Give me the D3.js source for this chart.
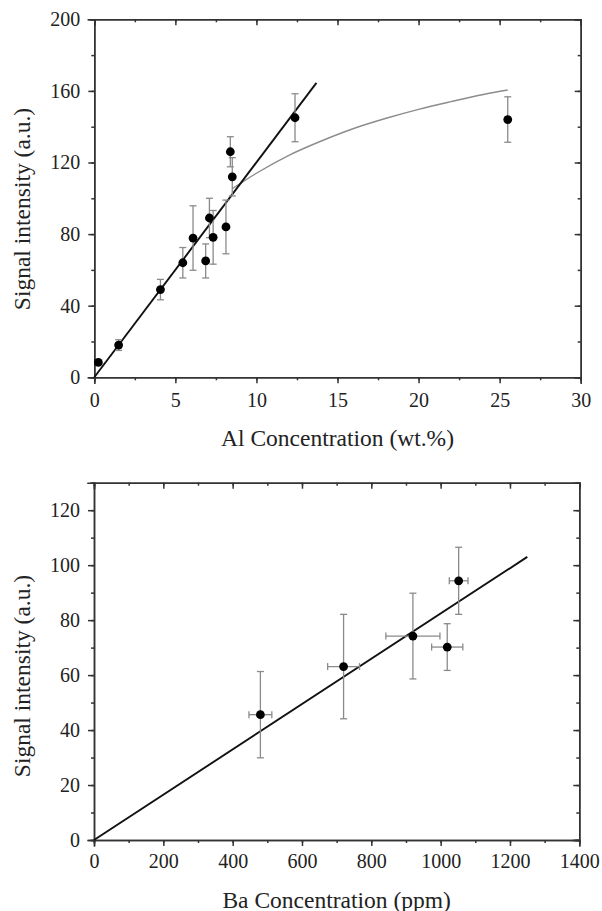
<!DOCTYPE html>
<html>
<head>
<meta charset="utf-8">
<script src="https://cdn.jsdelivr.net/npm/d3@7/dist/d3.min.js"></script>
<style>
  body { margin: 0; background: #fff; }
  svg { display: block; }
  .tick text { font-family: 'Liberation Serif', 'Times New Roman', Times, 'DejaVu Serif', serif; font-size: 20px; fill: #222; }
  .axis path, .axis line { stroke: #333; stroke-width: 1.5; }
  .title { font-family: 'Liberation Serif', 'Times New Roman', Times, 'DejaVu Serif', serif; font-size: 23.5px; fill: #222; }
</style>
</head>
<body>
<div id="chart"></div>
<script>
// ---- top panel: Al ----
const alConc   = [0.25, 1.5, 4.08, 5.46, 6.09, 6.87, 7.1, 7.33, 8.12, 8.39, 8.51, 12.38, 25.5]
const alSignal = [8.3, 18, 49, 64, 77.8, 65, 89, 78.2, 84, 126, 112, 145, 144]
const alErr    = [0, 3, 5.7, 8.5, 18, 9.5, 11, 15, 15, 8.4, 10.7, 13.4, 12.7]
const alFitX   = [0, 13.7]
const alFitY   = [0, 164.5]
const alCurveX = [8.5, 10, 12, 14, 16, 18, 20, 22, 24, 25.5]
const alCurveY = [105.3, 114, 124, 132, 139, 144.7, 149.7, 154, 158, 160.5]
const alXTicks = [0, 5, 10, 15, 20, 25, 30]
const alYTicks = [0, 40, 80, 120, 160, 200]

// ---- bottom panel: Ba ----
const baConc   = [480, 720, 920, 1019, 1052]
const baSignal = [45.6, 63.1, 74.2, 70.2, 94.3]
const baErrY   = [15.7, 19, 15.6, 8.5, 12.2]
const baErrX   = [33, 46, 78, 45, 27]
const baFitX   = [0, 1250]
const baFitY   = [0, 103]
const baXTicks = [0, 200, 400, 600, 800, 1000, 1200, 1400]
const baYTicks = [0, 20, 40, 60, 80, 100, 120]

const svg = d3.select('#chart').append('svg')
  .attr('width', 602)
  .attr('height', 911)

const panel = (opt) => {
  const width = opt.right - opt.left,
        height = opt.bottom - opt.top

  const x = d3.scaleLinear().domain(opt.xDomain).range([0, width])
  const y = d3.scaleLinear().domain(opt.yDomain).range([height, 0])

  const g = svg.append('g')
    .attr('transform', 'translate(' + opt.left + ', ' + opt.top + ')')

  // minor ticks first, then major on top
  const minorX = d3.range(opt.xDomain[0], opt.xDomain[1] + 1e-9, opt.xMinor)
  const minorY = d3.range(opt.yDomain[0], opt.yDomain[1] + 1e-9, opt.yMinor)

  g.append('g').classed('axis', true)
    .attr('transform', 'translate(0, ' + height + ')')
    .call(d3.axisBottom(x).tickValues(minorX).tickSize(3).tickFormat(''))
  g.append('g').classed('axis', true)
    .call(d3.axisBottom(x).tickValues(minorX).tickSize(3).tickFormat(''))
  g.append('g').classed('axis', true)
    .call(d3.axisLeft(y).tickValues(minorY).tickSize(3).tickFormat(''))
  g.append('g').classed('axis', true)
    .attr('transform', 'translate(' + width + ', 0)')
    .call(d3.axisLeft(y).tickValues(minorY).tickSize(3).tickFormat(''))

  g.append('g').classed('axis', true)
    .attr('transform', 'translate(0, ' + height + ')')
    .call(d3.axisBottom(x).tickValues(opt.xTicks).tickSize(6).tickPadding(opt.xPad).tickFormat(d3.format('d')))
  g.append('g').classed('axis', true)
    .call(d3.axisBottom(x).tickValues(opt.xTicks).tickSize(6).tickFormat(''))
  g.append('g').classed('axis', true)
    .call(d3.axisLeft(y).tickValues(opt.yTicks).tickSize(6).tickPadding(8).tickFormat(d3.format('d')))
  g.append('g').classed('axis', true)
    .attr('transform', 'translate(' + width + ', 0)')
    .call(d3.axisLeft(y).tickValues(opt.yTicks).tickSize(6).tickFormat(''))

  g.selectAll('.axis').attr('font-family', null)
  g.selectAll('.axis .domain').attr('stroke-linecap', 'square')

  const line = d3.line().x(d => x(d[0])).y(d => y(d[1]))

  if (opt.curveX) {
    g.append('path')
      .datum(d3.zip(opt.curveX, opt.curveY))
      .attr('d', line.curve(d3.curveMonotoneX))
      .attr('fill', 'none')
      .attr('stroke', '#8c8c8c')
      .attr('stroke-width', 1.4)
  }

  g.append('path')
    .datum(d3.zip(opt.fitX, opt.fitY))
    .attr('d', d3.line().x(d => x(d[0])).y(d => y(d[1])))
    .attr('fill', 'none')
    .attr('stroke', '#111')
    .attr('stroke-width', 1.9)

  const pts = opt.xs.map((d, i) => ({ x: d, y: opt.ys[i], ey: opt.ey[i], ex: opt.ex ? opt.ex[i] : 0 }))
  const cap = 3.5

  const bars = g.append('g')
    .attr('stroke', '#8a8a8a')
    .attr('stroke-width', 1.3)
    .selectAll('g')
    .data(pts).enter()
    .append('g')

  bars.filter(d => d.ey > 0).each(function (d) {
    const b = d3.select(this)
    b.append('line')
      .attr('x1', x(d.x)).attr('x2', x(d.x))
      .attr('y1', y(d.y - d.ey)).attr('y2', y(d.y + d.ey))
    ;[d.y - d.ey, d.y + d.ey].forEach(v => {
      b.append('line')
        .attr('x1', x(d.x) - cap).attr('x2', x(d.x) + cap)
        .attr('y1', y(v)).attr('y2', y(v))
    })
  })

  bars.filter(d => d.ex > 0).each(function (d) {
    const b = d3.select(this)
    b.append('line')
      .attr('x1', x(d.x - d.ex)).attr('x2', x(d.x + d.ex))
      .attr('y1', y(d.y)).attr('y2', y(d.y))
    ;[d.x - d.ex, d.x + d.ex].forEach(v => {
      b.append('line')
        .attr('x1', x(v)).attr('x2', x(v))
        .attr('y1', y(d.y) - cap).attr('y2', y(d.y) + cap)
    })
  })

  g.append('g').selectAll('circle')
    .data(pts).enter()
    .append('circle')
    .attr('cx', d => x(d.x))
    .attr('cy', d => y(d.y))
    .attr('r', 4.4)
    .attr('fill', '#000')

  svg.append('text').classed('title', true)
    .attr('x', (opt.left + opt.right) / 2)
    .attr('y', opt.xTitleY)
    .attr('text-anchor', 'middle')
    .text(opt.xTitle)

  svg.append('text').classed('title', true)
    .attr('transform', 'translate(30, ' + opt.yTitleMid + ') rotate(-90)')
    .attr('text-anchor', 'middle')
    .text(opt.yTitle)
}

panel({
  left: 94.3, right: 580.7, top: 19.3, bottom: 377.3,
  xDomain: [0, 30], yDomain: [0, 200], xMinor: 2.5, yMinor: 20,
  xTicks: alXTicks, yTicks: alYTicks, xPad: 9.5,
  xs: alConc, ys: alSignal, ey: alErr,
  fitX: alFitX, fitY: alFitY, curveX: alCurveX, curveY: alCurveY,
  xTitle: 'Al Concentration (wt.%)', xTitleY: 445.5,
  yTitle: 'Signal intensity (a.u.)', yTitleMid: 209
})

panel({
  left: 94, right: 579.3, top: 482.7, bottom: 840,
  xDomain: [0, 1400], yDomain: [0, 130], xMinor: 100, yMinor: 10,
  xTicks: baXTicks, yTicks: baYTicks, xPad: 8,
  xs: baConc, ys: baSignal, ey: baErrY, ex: baErrX,
  fitX: baFitX, fitY: baFitY,
  xTitle: 'Ba Concentration (ppm)', xTitleY: 907.5,
  yTitle: 'Signal intensity (a.u.)', yTitleMid: 676
})
</script>
</body>
</html>
